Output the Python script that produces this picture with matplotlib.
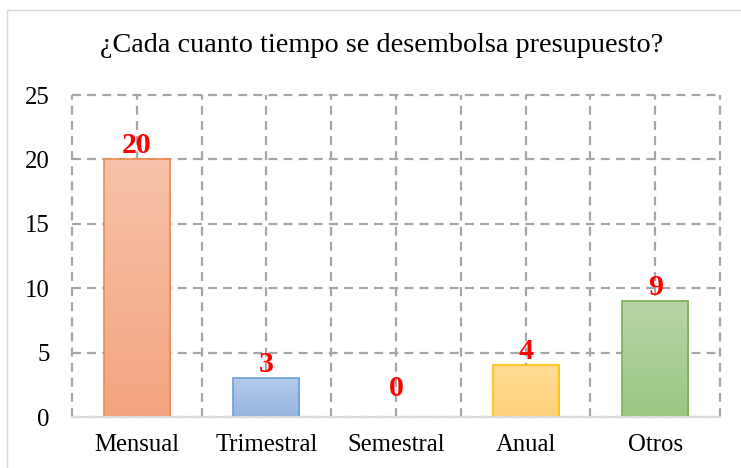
import numpy as np
import matplotlib.pyplot as plt
from matplotlib.patches import Rectangle
from matplotlib.colors import LinearSegmentedColormap

# data
categorias = ["Mensual", "Trimestral", "Semestral", "Anual", "Otros"]
valores = [20, 3, 0, 4, 9]
titulo = "¿Cada cuanto tiempo se desembolsa presupuesto?"

# gradient colours (top, bottom) and edge colour per bar
col_top = ["#F7C2AA", "#B4CBEA", "#FFE3A6", "#FFDC94", "#B7D5A6"]
col_bot = ["#F4A47F", "#96B4DF", "#FFD27A", "#FFD27A", "#9BC783"]
col_edge = ["#EE8A4E", "#6A9FD8", "#FFC000", "#FFC000", "#79AF55"]

plt.rcParams['font.family'] = ['Liberation Serif', 'DejaVu Serif']

fig = plt.figure(figsize=(7.41, 4.68), dpi=100)
ax = fig.add_axes([72/741, 1-417/468, (720-72)/741, (417-95)/468])

# light frame round the chart (runs off the right and bottom edge)
fig.patches.append(Rectangle((7/741, -10/468), 760/741, 468/468, transform=fig.transFigure,
                             fill=False, edgecolor="#D9D9D9", linewidth=1))

x = np.arange(len(categorias))
ancho = 0.51
barras = ax.bar(x, valores, width=ancho, color="none", edgecolor="none", zorder=3)

for i, b in enumerate(barras):
    h = b.get_height()
    if h <= 0:
        continue
    cmap = LinearSegmentedColormap.from_list("g%d" % i, [col_bot[i], col_top[i]])
    grad = np.linspace(0, 1, 256).reshape(-1, 1)
    im = ax.imshow(grad, cmap=cmap, origin="lower", aspect="auto",
                   extent=[b.get_x(), b.get_x() + b.get_width(), 0, h], zorder=3)
    im.set_clip_path(b)
    ax.add_patch(Rectangle((b.get_x(), 0), b.get_width(), h, fill=False,
                           edgecolor=col_edge[i], linewidth=1.2, zorder=4))

for xi, v in zip(x, valores):
    off = 11 if v == 0 else 0
    ax.annotate(str(v), (xi, v), xytext=(0, off), textcoords="offset points",
                ha="center", va="bottom", color="red", fontsize=21.5, fontweight="bold", zorder=5)

ax.set_xlim(-0.5, len(categorias) - 0.5)
ax.set_ylim(0, 25)
ax.set_yticks([0, 5, 10, 15, 20, 25])
ax.set_xticks(x)
ax.set_xticklabels(categorias)
ax.tick_params(axis="both", which="both", length=0, labelsize=17.8, colors="black")
ax.tick_params(axis="x", pad=12)
ax.tick_params(axis="y", pad=16)

estilo = dict(linestyle=(0, (4, 2.8)), color="#A6A6A6", linewidth=1.6)
ax.grid(True, axis="both", **estilo)
for gl in ax.get_ygridlines():
    gl.set_clip_on(False)
for xb in np.arange(len(categorias) + 1) - 0.5:
    ax.axvline(xb, zorder=0.5, clip_on=False, **estilo)
ax.set_axisbelow(True)
for s in ["top", "left", "right"]:
    ax.spines[s].set_visible(False)
ax.spines["bottom"].set_color("#D9D9D9")
ax.spines["bottom"].set_linewidth(1.5)
ax.spines["bottom"].set_zorder(6)

fig.text(382/741, 1-45/468, titulo, ha="center", va="center", fontsize=20.3)

fig.savefig("out.png", dpi=100)
